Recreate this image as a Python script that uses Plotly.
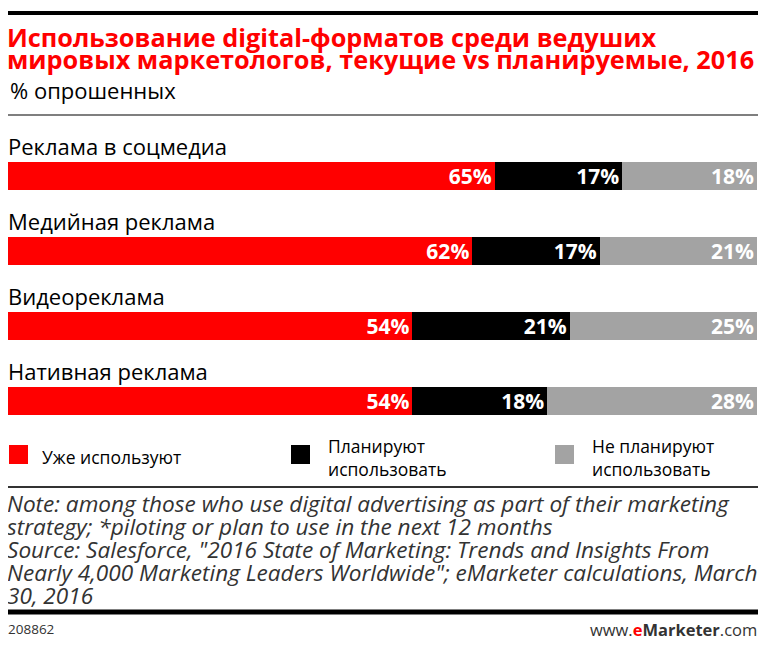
import plotly.graph_objects as go

# data
categories = ["Реклама в соцмедиа", "Медийная реклама", "Видеореклама", "Нативная реклама"]
already_use = [65, 62, 54, 54]
plan_to_use = [17, 17, 21, 18]
not_planning = [18, 21, 25, 28]

series_names = ["Уже используют", "Планируют<br>использовать", "Не планируют<br>использовать"]
series_colors = ["#ff0000", "#000000", "#a3a3a3"]

title_lines = [
    "Использование digital-форматов среди ведуших",
    "мировых маркетологов, текущие vs планируемые, 2016",
]
subtitle = "% опрошенных"
note_lines = [
    "Note: among those who use digital advertising as part of their marketing",
    "strategy; *piloting or plan to use in the next 12 months",
    "Source: Salesforce, \"2016 State of Marketing: Trends and Insights From",
    "Nearly 4,000 Marketing Leaders Worldwide\"; eMarketer calculations, March",
    "30, 2016",
]
chart_id = "208862"

# page body has an 8px margin, so the figure is drawn 8px smaller
OFF = 8
W, H = 768 - OFF, 648 - OFF
FONT = "Open Sans, sans-serif"


def px(x):
    return (x - OFF) / W


def py(y):
    return 1 - (y - OFF) / H


def tight_lines(lines, size):
    # glyphs at `size` px, line pitch set by the (smaller) annotation font
    return "<br>".join(f"<span style='font-size:{size}px'>{l}</span>" for l in lines)


fig = go.Figure()

for name, vals, color in zip(series_names, [already_use, plan_to_use, not_planning], series_colors):
    fig.add_trace(go.Bar(
        y=categories,
        x=vals,
        name=name,
        orientation="h",
        marker=dict(color=color, line=dict(width=0)),
        text=[f"{v}%" for v in vals],
        textposition="inside",
        insidetextanchor="end",
        textfont=dict(color="white", size=21, family=FONT, weight="bold"),
        showlegend=False,
        hoverinfo="skip",
    ))

annotations = []
# category labels sit above each bar
for cat in categories:
    annotations.append(dict(
        x=px(6), xref="paper", y=cat, yref="y", yshift=30,
        text=cat, showarrow=False, xanchor="left", yanchor="middle",
        font=dict(size=22, color="#000000", family=FONT),
    ))

# title (two tight lines) and subtitle
annotations.append(dict(
    x=px(5), y=py(48), xref="paper", yref="paper",
    text=tight_lines(title_lines, 25.3), showarrow=False,
    xanchor="left", yanchor="middle", align="left",
    font=dict(size=17, color="#ff0000", family=FONT, weight="bold"),
))
annotations.append(dict(
    x=px(8), y=py(90), xref="paper", yref="paper",
    text=subtitle, showarrow=False, xanchor="left", yanchor="middle",
    font=dict(size=22, color="#000000", family=FONT),
))

# legend drawn by hand
legend_sq_x = [9, 291, 555]
legend_txt_x = [40, 326, 590]
shapes = []
for sx, tx, name, color in zip(legend_sq_x, legend_txt_x, series_names, series_colors):
    shapes.append(dict(type="rect", xref="paper", yref="paper",
                       x0=px(sx), x1=px(sx + 19), y0=py(445), y1=py(464),
                       fillcolor=color, line=dict(width=0)))
    annotations.append(dict(
        x=px(tx), y=py(457), xref="paper", yref="paper",
        text=name, showarrow=False, xanchor="left", yanchor="middle", align="left",
        font=dict(size=17.5, color="#000000", family=FONT),
    ))

# notes
annotations.append(dict(
    x=px(5), y=py(549), xref="paper", yref="paper",
    text="<i>" + tight_lines(note_lines, 22.6) + "</i>", showarrow=False,
    xanchor="left", yanchor="middle", align="left",
    font=dict(size=17.7, color="#333333", family=FONT),
))

annotations.append(dict(
    x=px(6), y=py(629), xref="paper", yref="paper",
    text=chart_id, showarrow=False, xanchor="left", yanchor="middle",
    font=dict(size=13.5, color="#333333", family=FONT),
))
annotations.append(dict(
    x=px(759), y=py(629), xref="paper", yref="paper",
    text="www.<b><span style='color:#ff0000'>e</span>Marketer</b>.com", showarrow=False,
    xanchor="right", yanchor="middle",
    font=dict(size=16.5, color="#333333", family=FONT),
))

# rule lines
for y, w, c in [(13, 4, "#000000"), (115, 1.5, "#555555"), (487, 2, "#333333"), (612, 5, "#000000")]:
    shapes.append(dict(type="line", xref="paper", yref="paper",
                       x0=px(8), x1=px(758), y0=py(y), y1=py(y),
                       line=dict(color=c, width=w)))

fig.update_layout(
    width=W, height=H,
    margin=dict(l=0, r=0, t=0, b=0),
    paper_bgcolor="white", plot_bgcolor="white",
    barmode="stack",
    bargap=0.625,
    xaxis=dict(domain=[px(8), px(757)], range=[0, 100], visible=False, fixedrange=True),
    yaxis=dict(domain=[py(438), py(139)], categoryorder="array", categoryarray=categories,
               range=[3.5, -0.5], visible=False, fixedrange=True),
    annotations=annotations,
    shapes=shapes,
    uniformtext=dict(minsize=21, mode="show"),
    font=dict(family=FONT),
)

fig.write_html("out.html")
